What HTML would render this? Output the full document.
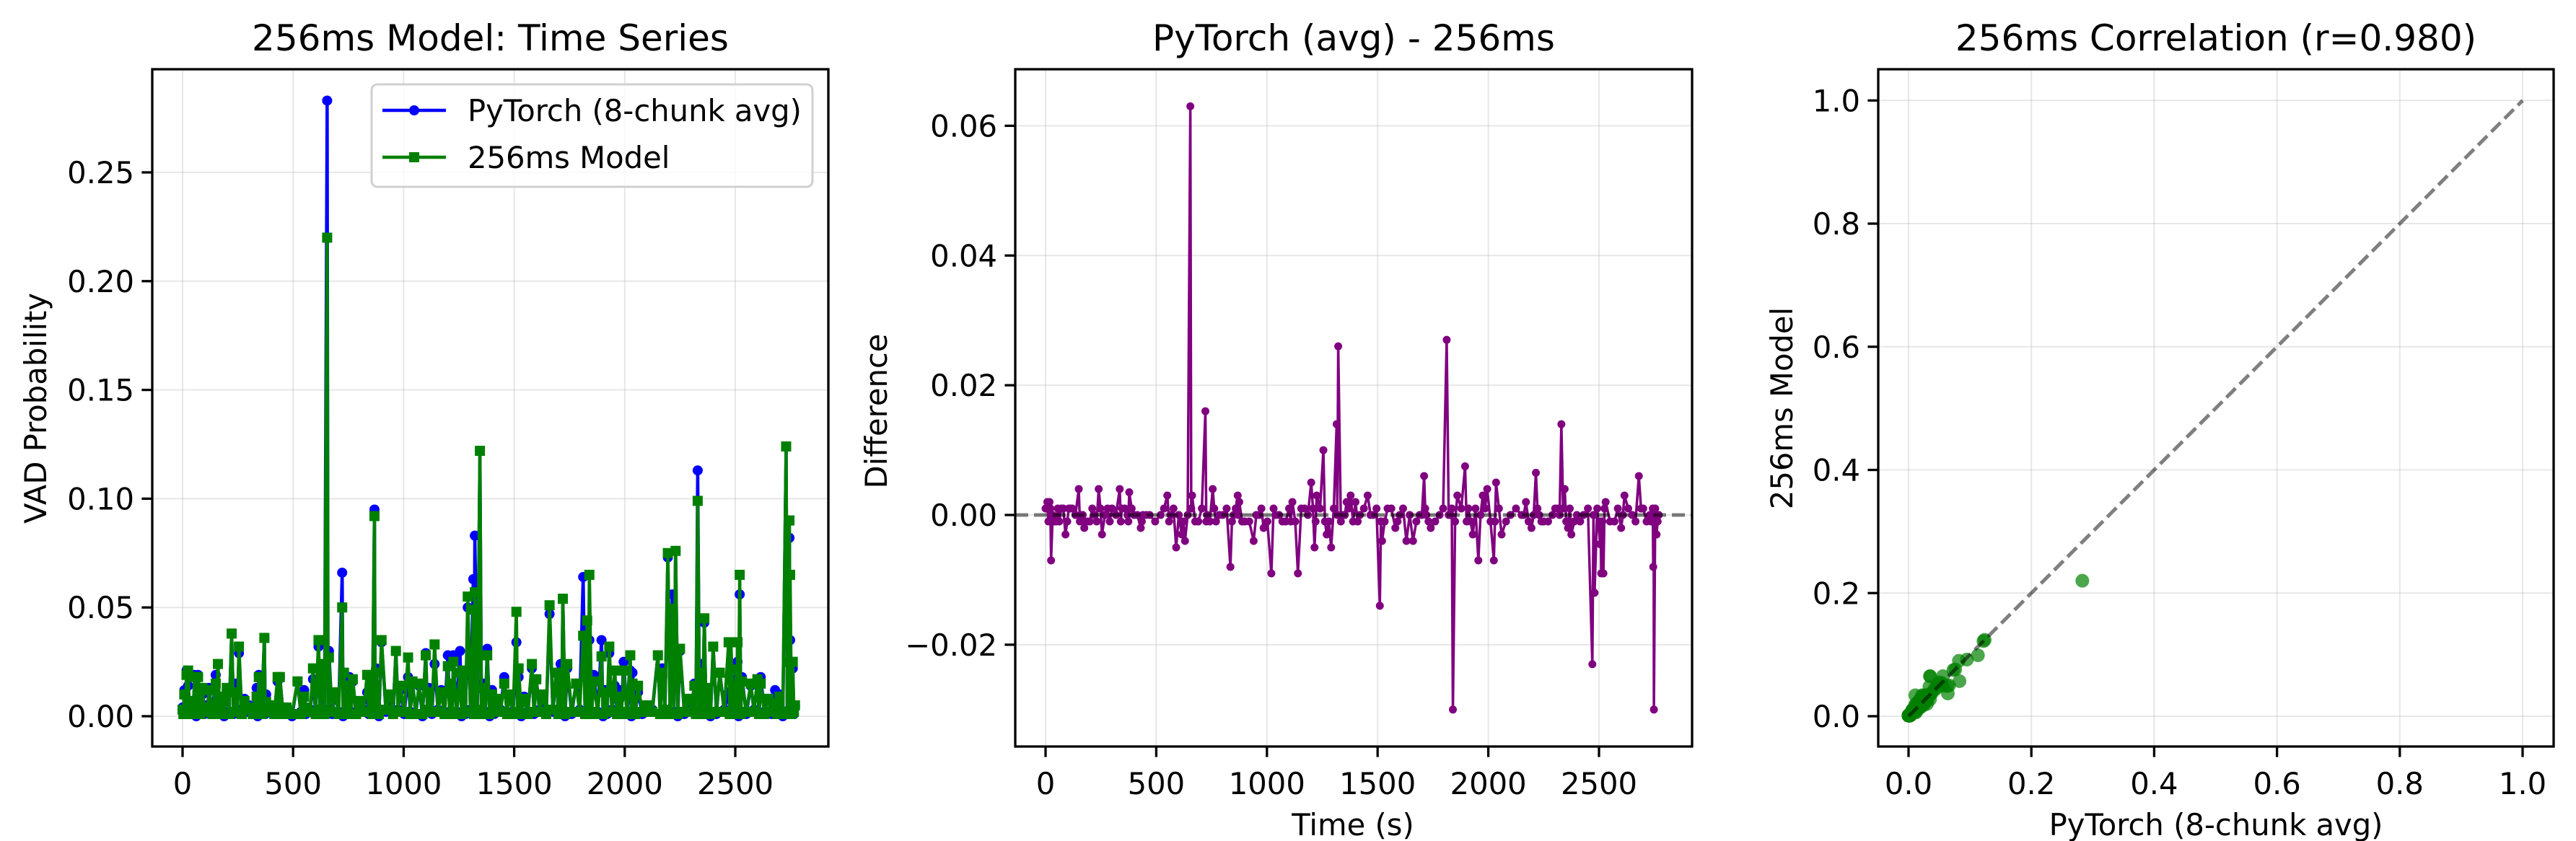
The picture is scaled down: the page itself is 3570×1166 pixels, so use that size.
<!DOCTYPE html>
<html><head><meta charset="utf-8"><style>
html,body{margin:0;padding:0;background:#fff}
svg{display:block}
text{font-family:"DejaVu Sans","Liberation Sans",sans-serif;fill:#000}
</style></head><body>
<svg id="fig" width="3570" height="1166" viewBox="0 0 3570 1166" xmlns="http://www.w3.org/2000/svg">
<rect width="3570" height="1166" fill="#fff"/>
<g id="p1"></g>
<g id="p2"></g>
<g id="p3"></g>
</svg>
<script>
const times = [0,8,18,25,40,55,70,90,105,120,150,160,175,200,222,240,255,280,300,335,345,370,378,400,430,440,470,520,550,565,590,615,630,654,662,690,722,730,755,770,800,835,850,868,875,900,940,965,985,1020,1040,1070,1100,1115,1140,1170,1200,1215,1225,1255,1270,1290,1315,1322,1345,1360,1378,1400,1420,1455,1480,1510,1520,1545,1580,1600,1630,1660,1690,1710,1720,1740,1780,1812,1830,1840,1860,1895,1910,1930,1955,1975,1995,2025,2035,2060,2100,2150,2170,2195,2215,2230,2250,2290,2315,2330,2345,2360,2375,2400,2430,2470,2480,2505,2510,2520,2530,2570,2600,2615,2650,2680,2700,2730,2740,2745,2748,2760,2770];
const pytorchVals = [0.004,0.012,0.021,0.014,0.006,0.019,0.019,0.010,0.005,0.013,0.019,0.024,0.007,0.012,0.038,0.015,0.029,0.008,0.005,0.013,0.019,0.036,0.010,0.005,0.016,0.018,0.004,0.016,0.012,0.004,0.017,0.032,0.020,0.283,0.030,0.010,0.066,0.020,0.018,0.016,0.007,0.011,0.016,0.095,0.022,0.034,0.006,0.030,0.012,0.018,0.016,0.014,0.029,0.013,0.024,0.012,0.028,0.010,0.028,0.030,0.018,0.050,0.063,0.083,0.122,0.015,0.031,0.012,0.008,0.018,0.010,0.034,0.018,0.009,0.022,0.017,0.006,0.047,0.020,0.024,0.054,0.022,0.015,0.064,0.044,0.035,0.019,0.035,0.012,0.029,0.014,0.012,0.025,0.021,0.020,0.011,0.005,0.028,0.022,0.073,0.056,0.076,0.030,0.008,0.015,0.113,0.024,0.043,0.010,0.032,0.020,0.011,0.022,0.017,0.025,0.056,0.018,0.014,0.015,0.018,0.008,0.012,0.010,0.124,0.025,0.082,0.035,0.022,0.005];
const modelVals = [0.003,0.010,0.019,0.021,0.007,0.018,0.018,0.013,0.004,0.012,0.015,0.024,0.009,0.013,0.038,0.011,0.032,0.007,0.004,0.009,0.018,0.036,0.0065,0.005,0.018,0.018,0.004,0.016,0.009,0.004,0.022,0.035,0.024,0.220,0.027,0.011,0.050,0.020,0.014,0.017,0.007,0.019,0.016,0.092,0.020,0.035,0.010,0.030,0.014,0.027,0.016,0.015,0.028,0.011,0.033,0.011,0.023,0.015,0.025,0.020,0.021,0.055,0.049,0.057,0.122,0.013,0.028,0.010,0.008,0.015,0.010,0.048,0.022,0.008,0.024,0.017,0.010,0.051,0.020,0.018,0.054,0.024,0.015,0.037,0.044,0.065,0.016,0.0275,0.011,0.032,0.021,0.009,0.021,0.028,0.015,0.014,0.005,0.028,0.020,0.075,0.0495,0.076,0.031,0.008,0.014,0.099,0.020,0.045,0.013,0.032,0.020,0.034,0.034,0.0215,0.034,0.065,0.016,0.015,0.017,0.015,0.008,0.006,0.009,0.124,0.025,0.090,0.065,0.025,0.005];
const lowTimes = [4,13,22,32,48,62,80,98,112,135,155,168,188,211,231,248,268,290,318,340,358,374,389,415,435,455,495,535,558,578,602,622,642,658,676,706,726,742,762,785,818,842,859,871,888,920,952,975,1002,1030,1055,1085,1108,1128,1155,1185,1208,1220,1240,1262,1280,1302,1318,1334,1352,1369,1389,1410,1438,1468,1495,1515,1532,1562,1590,1615,1645,1675,1700,1715,1730,1760,1796,1821,1835,1850,1878,1902,1920,1942,1965,1985,2010,2030,2048,2080,2125,2160,2182,2205,2222,2240,2270,2302,2322,2338,2352,2368,2388,2415,2450,2475,2492,2508,2515,2525,2550,2585,2608,2632,2665,2690,2715,2735,2743,2747,2754,2765];
const lowPytorch = [0.002,0.001,0.003,0.001,0.002,0.000,0.002,0.001,0.003,0.001,0.002,0.001,0.000,0.002,0.001,0.003,0.001,0.002,0.001,0.000,0.002,0.001,0.003,0.001,0.002,0.001,0.000,0.002,0.001,0.003,0.001,0.002,0.001,0.003,0.001,0.002,0.000,0.001,0.002,0.001,0.003,0.001,0.002,0.001,0.000,0.002,0.001,0.003,0.001,0.002,0.001,0.000,0.002,0.001,0.003,0.001,0.002,0.001,0.002,0.000,0.001,0.003,0.001,0.002,0.001,0.002,0.000,0.001,0.003,0.001,0.002,0.001,0.000,0.002,0.001,0.003,0.001,0.002,0.001,0.002,0.000,0.001,0.003,0.001,0.002,0.001,0.002,0.000,0.001,0.003,0.001,0.002,0.001,0.000,0.002,0.001,0.003,0.001,0.002,0.001,0.002,0.000,0.001,0.003,0.001,0.002,0.001,0.002,0.000,0.001,0.003,0.001,0.002,0.001,0.000,0.002,0.001,0.003,0.001,0.002,0.001,0.002,0.000,0.001,0.003,0.001,0.002,0.001];
const lowModel = [0.001,0.002,0.002,0.001,0.003,0.001,0.001,0.002,0.002,0.001,0.003,0.001,0.001,0.001,0.002,0.002,0.001,0.003,0.001,0.001,0.001,0.002,0.002,0.001,0.003,0.001,0.001,0.001,0.002,0.002,0.001,0.003,0.001,0.002,0.002,0.001,0.001,0.002,0.001,0.001,0.002,0.002,0.001,0.001,0.001,0.003,0.001,0.002,0.002,0.001,0.001,0.001,0.003,0.002,0.002,0.001,0.001,0.002,0.001,0.001,0.002,0.002,0.001,0.003,0.001,0.001,0.001,0.002,0.002,0.001,0.001,0.002,0.001,0.001,0.002,0.002,0.001,0.003,0.001,0.001,0.001,0.002,0.002,0.001,0.001,0.002,0.001,0.001,0.002,0.002,0.001,0.001,0.002,0.001,0.001,0.002,0.002,0.001,0.003,0.001,0.001,0.001,0.002,0.002,0.001,0.001,0.002,0.001,0.001,0.002,0.002,0.001,0.001,0.002,0.001,0.001,0.002,0.002,0.001,0.001,0.002,0.001,0.001,0.002,0.002,0.001,0.001,0.002];
const ticks1Y = [0,0.05,0.10,0.15,0.20,0.25];
const ticks1YLabels = ["0.00","0.05","0.10","0.15","0.20","0.25"];
const ticksTime = [0,500,1000,1500,2000,2500];
const ticks2Y = [-0.02,0,0.02,0.04,0.06];
const ticks2YLabels = ["\u22120.02","0.00","0.02","0.04","0.06"];
const ticks3 = [0,0.2,0.4,0.6,0.8,1.0];
const ticks3Labels = ["0.0","0.2","0.4","0.6","0.8","1.0"];

/* merge main and low samples in time order */
const rows = [];
times.forEach((t,i)=>rows.push([t,pytorchVals[i],modelVals[i]]));
const nLow = Math.min(lowTimes.length,lowPytorch.length,lowModel.length);
for(let i=0;i<nLow;i++) rows.push([lowTimes[i],lowPytorch[i],lowModel[i]]);
rows.sort((a,b)=>a[0]-b[0]);
const T_ = rows.map(r=>r[0]), P_ = rows.map(r=>r[1]), M_ = rows.map(r=>r[2]);

const NS="http://www.w3.org/2000/svg";
function mk(parent,tag,attrs,txt){const e=document.createElementNS(NS,tag);for(const k in attrs)e.setAttribute(k,attrs[k]);if(txt!==undefined)e.textContent=txt;parent.appendChild(e);return e;}
function lin(d0,d1,r0,r1){return v=>r0+(v-d0)*(r1-r0)/(d1-d0);}

const T=96,B=1035;
function frame(g,L,R,sx,sy,xt,xl,yt,yl){
  xt.forEach((v,i)=>{const x=sx(v);
    const gl=mk(g,'line',{x1:x,x2:x,y1:T,y2:B,stroke:'#b0b0b0','stroke-opacity':0.3,'stroke-width':2});
    
    const tk=mk(g,'line',{x1:x,x2:x,y1:B,y2:B+14.6,stroke:'#000','stroke-width':3.3});
    
    const t=mk(g,'text',{x:x,y:B+66,'font-size':41.7,'text-anchor':'middle'},xl[i]);
    });
  yt.forEach((v,i)=>{const y=sy(v);
    const gl=mk(g,'line',{x1:L,x2:R,y1:y,y2:y,stroke:'#b0b0b0','stroke-opacity':0.3,'stroke-width':2});
    
    const tk=mk(g,'line',{x1:L-14.6,x2:L,y1:y,y2:y,stroke:'#000','stroke-width':3.3});
    
    const t=mk(g,'text',{x:L-25,y:y+15,'font-size':41.7,'text-anchor':'end'},yl[i]);
    });
}
function spines(g,L,R){const s=mk(g,'rect',{x:L,y:T,width:R-L,height:B-T,fill:'none',stroke:'#000','stroke-width':3.3});
  }
function clip(id,L,R){const defs=mk(document.getElementById('fig'),'clipPath',{id:id});mk(defs,'rect',{x:L,y:T,width:R-L,height:B-T});}

/* Panel 1 */
(function(){
  const g=document.getElementById('p1');const L=211,R=1148;
  const sx=lin(0,2500,253,1019), sy=lin(0,0.25,993,239);
  frame(g,L,R,sx,sy,ticksTime,ticksTime.map(String),ticks1Y,ticks1YLabels);
  clip('c1',L,R);
  const d=mk(g,'g',{'clip-path':'url(#c1)'});
  const p1=mk(d,'polyline',{points:T_.map((t,i)=>sx(t)+','+sy(P_[i])).join(' '),fill:'none',stroke:'#0000ff','stroke-width':4.5,'stroke-linejoin':'round'});
  
  T_.forEach((t,i)=>{const c=mk(d,'circle',{cx:sx(t),cy:sy(P_[i]),r:7,fill:'#0000ff'});
    });
  const p2=mk(d,'polyline',{points:T_.map((t,i)=>sx(t)+','+sy(M_[i])).join(' '),fill:'none',stroke:'#008000','stroke-width':4.5,'stroke-linejoin':'round'});
  
  T_.forEach((t,i)=>{const s=mk(d,'rect',{x:sx(t)-7,y:sy(M_[i])-7,width:14,height:14,fill:'#008000'});
    });
  spines(g,L,R);
  const tt=mk(g,'text',{x:(L+R)/2,y:70,'font-size':50,'text-anchor':'middle'},'256ms Model: Time Series');
  
  const yl=mk(g,'text',{x:0,y:0,'font-size':41.7,'text-anchor':'middle',transform:'translate(64,566) rotate(-90)'},'VAD Probability');
  
  const lg=mk(g,'g',{});
  mk(lg,'rect',{x:515,y:117,width:611,height:142,rx:8,fill:'#fff','fill-opacity':0.8,stroke:'#d0d0d0','stroke-width':3});
  mk(lg,'line',{x1:530,x2:618,y1:153,y2:153,stroke:'#0000ff','stroke-width':4.5});
  mk(lg,'circle',{cx:574,cy:153,r:7,fill:'#0000ff'});
  const l1=mk(lg,'text',{x:648,y:168,'font-size':41.7},'PyTorch (8-chunk avg)');
  
  mk(lg,'line',{x1:530,x2:618,y1:218,y2:218,stroke:'#008000','stroke-width':4.5});
  mk(lg,'rect',{x:567,y:211,width:14,height:14,fill:'#008000'});
  const l2=mk(lg,'text',{x:648,y:233,'font-size':41.7},'256ms Model');
  
})();

/* Panel 2 */
(function(){
  const g=document.getElementById('p2');const L=1407,R=2345;
  const sx=lin(0,2500,1449,2216), sy=lin(0,0.06,714,174.4);
  frame(g,L,R,sx,sy,ticksTime,ticksTime.map(String),ticks2Y,ticks2YLabels);
  clip('c2',L,R);
  const d=mk(g,'g',{'clip-path':'url(#c2)'});
  const diffs=T_.map((t,i)=>P_[i]-M_[i]);
  const pl=mk(d,'polyline',{points:T_.map((t,i)=>sx(t)+','+sy(diffs[i])).join(' '),fill:'none',stroke:'#800080','stroke-width':3.5,'stroke-linejoin':'round'});
  
  T_.forEach((t,i)=>{const c=mk(d,'circle',{cx:sx(t),cy:sy(diffs[i]),r:5.5,fill:'#800080'});
    });
  const z=mk(d,'line',{x1:L,x2:R,y1:sy(0),y2:sy(0),stroke:'#000','stroke-opacity':0.5,'stroke-width':5,'stroke-dasharray':'18 8'});
  
  spines(g,L,R);
  const tt=mk(g,'text',{x:(L+R)/2,y:70,'font-size':50,'text-anchor':'middle'},'PyTorch (avg) - 256ms');
  
  const yl=mk(g,'text',{x:0,y:0,'font-size':41.7,'text-anchor':'middle',transform:'translate(1229,570) rotate(-90)'},'Difference');
  
  const xl=mk(g,'text',{x:1875,y:1158,'font-size':41.7,'text-anchor':'middle'},'Time (s)');
  
})();

/* Panel 3 */
(function(){
  const g=document.getElementById('p3');const L=2603,R=3539;
  const sx=lin(0,1,2645,3496), sy=lin(0,1,993,139.3);
  frame(g,L,R,sx,sy,ticks3,ticks3Labels,ticks3,ticks3Labels);
  clip('c3',L,R);
  const d=mk(g,'g',{'clip-path':'url(#c3)'});
  T_.forEach((t,i)=>{const c=mk(d,'circle',{cx:sx(P_[i]),cy:sy(M_[i]),r:9.5,fill:'#008000','fill-opacity':0.7});
    });
  const dl=mk(d,'line',{x1:sx(0),y1:sy(0),x2:sx(1),y2:sy(1),stroke:'#000','stroke-opacity':0.5,'stroke-width':5,'stroke-dasharray':'18 8'});
  
  spines(g,L,R);
  const tt=mk(g,'text',{x:(L+R)/2,y:70,'font-size':50,'text-anchor':'middle'},'256ms Correlation (r=0.980)');
  
  const yl=mk(g,'text',{x:0,y:0,'font-size':41.7,'text-anchor':'middle',transform:'translate(2484,566) rotate(-90)'},'256ms Model');
  
  const xl=mk(g,'text',{x:3071,y:1158,'font-size':41.7,'text-anchor':'middle'},'PyTorch (8-chunk avg)');
  
})();
</script>
</body></html>
